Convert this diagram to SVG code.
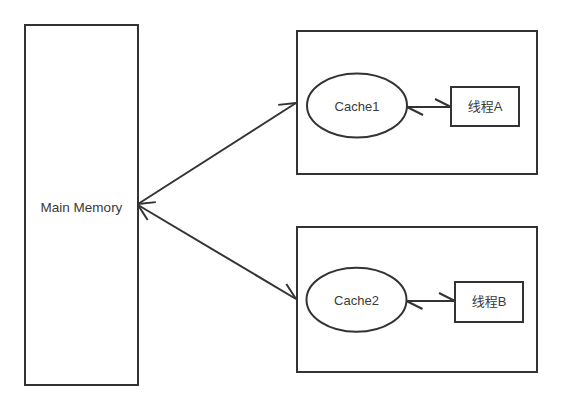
<svg xmlns="http://www.w3.org/2000/svg" width="562" height="410" viewBox="0 0 562 410">
<style>
.box{fill:#fff;stroke:#333;stroke-width:2}
.lbl{font-family:"Liberation Sans","Noto Sans CJK SC",sans-serif;font-size:13px;fill:#3a3a3a;text-anchor:middle}
.conn{fill:none;stroke:#333;stroke-width:2;marker-start:url(#harp);marker-end:url(#harp)}
</style>
<defs>
<marker id="harp" markerUnits="userSpaceOnUse" orient="auto-start-reverse" refX="0" refY="0" markerWidth="20" markerHeight="20" overflow="visible">
<path d="M0,0 L-16,-8" fill="none" stroke="#333" stroke-width="2"/>
</marker>
</defs>
<rect width="562" height="410" fill="#fff"/>
<g id="main-memory">
<rect class="box" x="25" y="25" width="113" height="360"/>
<text class="lbl" x="81.5" y="212" style="font-size:13.5px">Main Memory</text>
</g>
<g id="group1">
<rect class="box" x="297" y="31" width="240" height="143"/>
</g>
<g id="cache1">
<ellipse class="box" cx="357" cy="105.5" rx="50" ry="32"/>
<text class="lbl" x="357" y="111">Cache1</text>
</g>
<g id="threadA">
<rect class="box" x="451" y="87" width="68" height="39"/>
<text class="lbl" x="485" y="111">线程A</text>
</g>
<g id="group2">
<rect class="box" x="297" y="227" width="240" height="145"/>
</g>
<g id="cache2">
<ellipse class="box" cx="356.5" cy="299.7" rx="50" ry="32"/>
<text class="lbl" x="356.5" y="305">Cache2</text>
</g>
<g id="threadB">
<rect class="box" x="455" y="282" width="68" height="40"/>
<text class="lbl" x="489" y="306">线程B</text>
</g>
<g id="connectors">
<path class="conn" d="M138,204 L296,103"/>
<path class="conn" d="M138,205 L296,299"/>
<path class="conn" d="M407,107 L451,107"/>
<path class="conn" d="M406.5,301 L455,301"/>
</g>
</svg>
